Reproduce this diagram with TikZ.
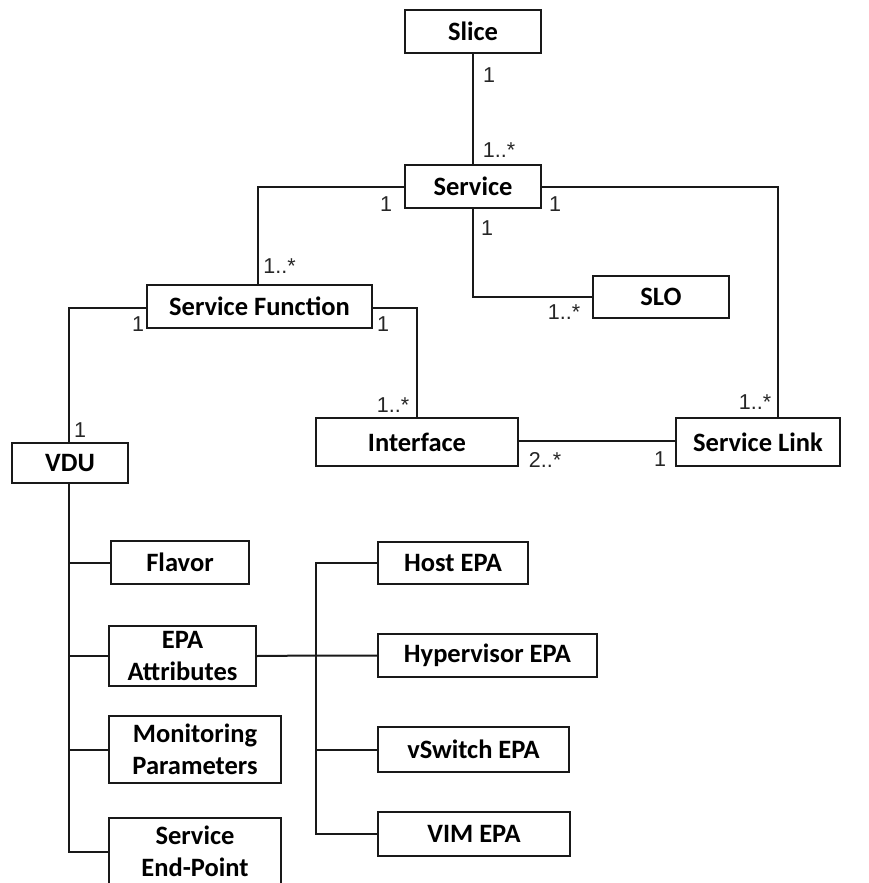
\documentclass[tikz,border=0pt]{standalone}
\usepackage{fontspec}
\setmainfont{Carlito}
\newfontfamily\multfont{Liberation Sans}
\begin{document}
\begin{tikzpicture}[x=1pt,y=-1pt,
  box/.style={draw=black!90, line width=2pt, fill=white, inner sep=0pt,
    font=\fontsize{26.5}{31.5}\selectfont\bfseries, align=center},
  link/.style={draw=black!90, line width=2pt},
  mult/.style={font=\multfont\fontsize{21.5}{21.5}\selectfont, inner sep=0pt, text=black!85}]
\useasboundingbox (0,0) rectangle (869,883);
\clip (0,0) rectangle (869,883);

% classes
\node[box, minimum width=136pt, minimum height=43pt] (slice)   at (473,31.5)   {Slice};
\node[box, minimum width=136pt, minimum height=43pt] (service) at (473,186.5)  {Service};
\node[box, minimum width=225pt, minimum height=43pt] (sf)      at (259.5,306.5){Service Function};
\node[box, minimum width=136pt, minimum height=42pt] (slo)     at (661,297)    {SLO};
\node[box, minimum width=116pt, minimum height=40pt] (vdu)     at (70,463)     {VDU};
\node[box, minimum width=202pt, minimum height=48pt] (iface)   at (417,442)    {Interface};
\node[box, minimum width=164pt, minimum height=48pt] (slink)   at (758,442)    {Service Link};

% VDU parts
\node[box, minimum width=138pt, minimum height=43pt] (flavor)  at (180,562.5)  {Flavor};
\node[box, minimum width=147pt, minimum height=60pt] (epa)     at (182.5,656)  {EPA\\Attributes};
\node[box, minimum width=172pt, minimum height=67pt] (mon)     at (195,749.5)  {Monitoring\\Parameters};
\node[box, minimum width=172pt, minimum height=68pt] (sep)     at (195,851.5)  {Service\\End-Point};

% EPA kinds
\node[box, minimum width=150pt, minimum height=42pt] (host)    at (453,563)    {Host EPA};
\node[box, minimum width=219pt, minimum height=43pt] (hyper)   at (487.5,655.5){Hypervisor EPA};
\node[box, minimum width=191pt, minimum height=45pt] (vswitch) at (473.5,749.5){vSwitch EPA};
\node[box, minimum width=192pt, minimum height=44pt] (vim)     at (474,834)    {VIM EPA};

% associations
\draw[link] (slice.south) -- (service.north);
\draw[link] (service.west) -| ([xshift=-1.5pt]sf.north);
\draw[link] (service.east) -| ([xshift=20pt]slink.north);
\draw[link] (service.south) |- (slo.west);
\draw[link] ([yshift=-1.5pt]sf.west) -| ([xshift=-1pt]vdu.north);
\draw[link] ([yshift=-1.5pt]sf.east) -| (iface.north);
\draw[link] ([yshift=1pt]iface.east) -- ([yshift=1pt]slink.west);

% VDU composition tree
\coordinate (vtrunk) at ([xshift=-1pt]vdu.south);
\draw[link] (vtrunk) |- (sep.west);
\draw[link] (vtrunk |- flavor.west) -- (flavor.west);
\draw[link] (vtrunk |- epa.west) -- (epa.west);
\draw[link] (vtrunk |- mon.west) -- (mon.west);

% EPA tree
\coordinate (etrunk) at ([xshift=-61pt]hyper.west);
\draw[link] (epa.east) -- (etrunk) -- (hyper.west);
\draw[link] (host.west) -| (etrunk) |- (vim.west);
\draw[link] (etrunk |- vswitch.west) -- (vswitch.west);

% multiplicities
\node[mult] (m1)  at (489,75)    {1};
\node[mult] (m2)  at (499,150)   {1..*};
\node[mult] (m3)  at (386,204)   {1};
\node[mult] (m4)  at (555,204)   {1};
\node[mult] (m5)  at (487,228)   {1};
\node[mult] (m6)  at (279.5,266) {1..*};
\node[mult] (m7)  at (564,312)   {1..*};
\node[mult] (m8)  at (138,324)   {1};
\node[mult] (m9)  at (383,324)   {1};
\node[mult] (m10) at (80,430)    {1};
\node[mult] (m11) at (393,405)   {1..*};
\node[mult] (m12) at (755,402)   {1..*};
\node[mult] (m13) at (545,460)   {2..*};
\node[mult] (m14) at (660,459)   {1};
\end{tikzpicture}
\end{document}
